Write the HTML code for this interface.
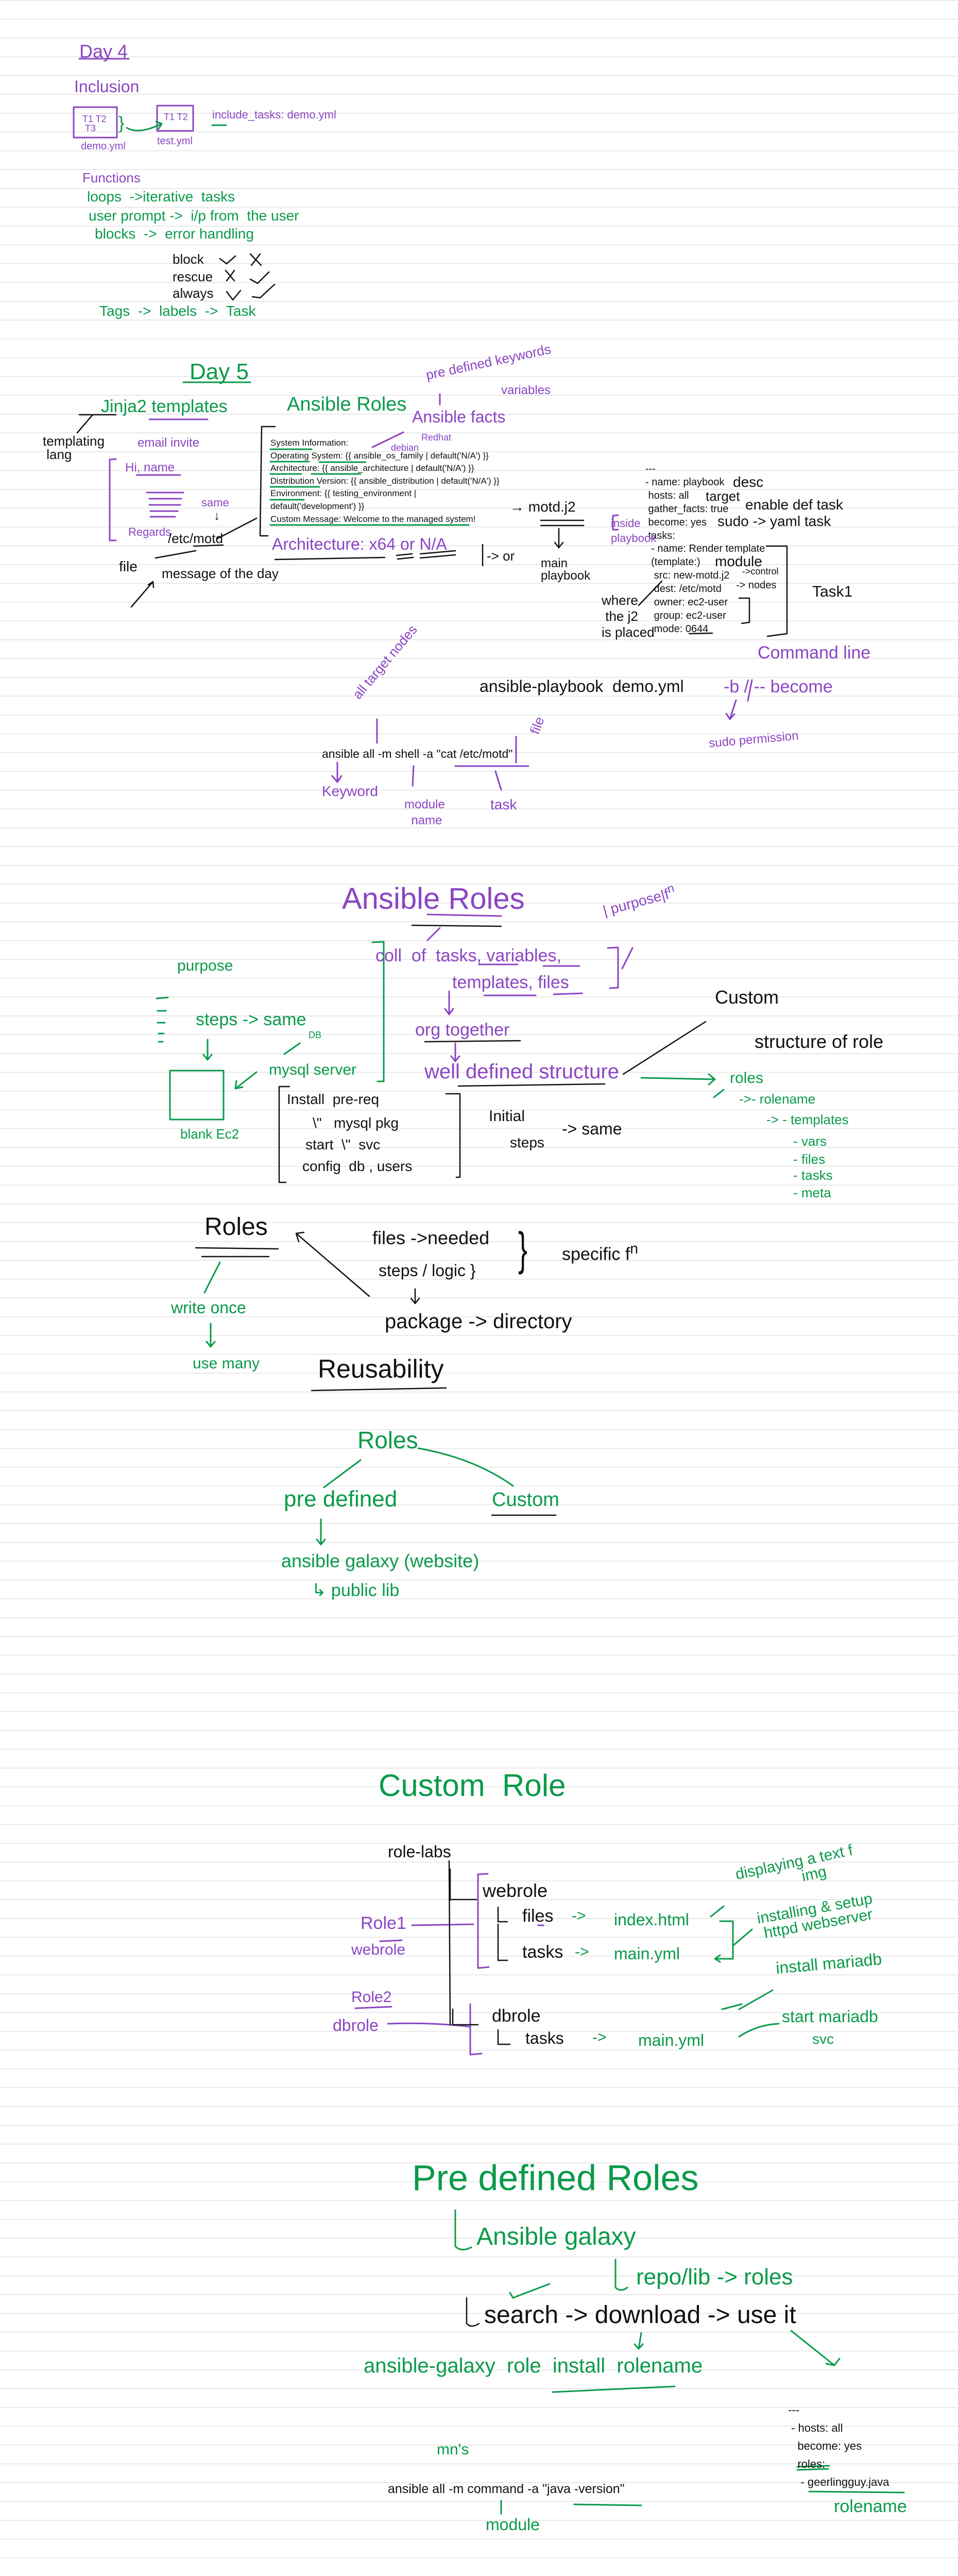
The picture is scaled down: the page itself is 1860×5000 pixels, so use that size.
<!DOCTYPE html>
<html><head><meta charset="utf-8">
<style>
html,body{margin:0;padding:0}
body{width:1860px;height:5000px;position:relative;overflow:hidden;background:#fff;
background-image:repeating-linear-gradient(to bottom,#e3e3e3 0,#e3e3e3 1.5px,transparent 1.5px,transparent 36.5px);}
.t{position:absolute;white-space:nowrap;line-height:1;font-family:"Liberation Sans Narrow","Liberation Sans",sans-serif;}
.p{color:#8b45c3}.g{color:#0a9a4a}.k{color:#111}
.ty{position:absolute;white-space:nowrap;font-family:"Liberation Sans Narrow","Liberation Sans",sans-serif;color:#111;}
svg{position:absolute;left:0;top:0}
</style></head><body>
<svg width="1860" height="5000" fill="none" stroke-linecap="round" stroke-linejoin="round">
<g stroke="#8b45c3" stroke-width="3">
<line x1="154" y1="114" x2="250" y2="114"/>
<rect x="143" y="208" width="84" height="59"/>
<rect x="305" y="205" width="70" height="49"/>
<line x1="290" y1="814" x2="403" y2="814"/>
<line x1="854" y1="765" x2="854" y2="785"/>
<line x1="723" y1="868" x2="783" y2="839"/>
<path d="M225 891 L213 892 L213 1049 L225 1049"/>
<line x1="285" y1="956" x2="356" y2="956"/><line x1="290" y1="968" x2="352" y2="968"/><line x1="290" y1="980" x2="350" y2="980"/><line x1="292" y1="992" x2="345" y2="992"/><line x1="292" y1="1003" x2="340" y2="1003"/>
<line x1="265" y1="922" x2="350" y2="922"/>
<path d="M1200 1000 L1190 1001 L1190 1028 L1200 1028"/>
<line x1="1429" y1="1359" x2="1417" y2="1396"/><path d="M1410 1385 L1417 1396 L1426 1386"/>
<line x1="1460" y1="1320" x2="1452" y2="1360"/>
<line x1="732" y1="1396" x2="732" y2="1442"/>
<line x1="1002" y1="1430" x2="1002" y2="1480"/>
<line x1="884" y1="1487" x2="1026" y2="1487"/>
<line x1="655" y1="1480" x2="655" y2="1518"/><path d="M645 1506 L655 1518 L663 1506"/>
<line x1="803" y1="1487" x2="801" y2="1525"/>
<line x1="962" y1="1497" x2="973" y2="1533"/>
<line x1="830" y1="1775" x2="973" y2="1778"/>
<line x1="854" y1="1801" x2="830" y2="1825"/>
<path d="M1180 1840 L1200 1839 L1200 1917 L1184 1918"/>
<line x1="1208" y1="1880" x2="1228" y2="1840"/>
<line x1="872" y1="1924" x2="872" y2="1969"/><path d="M864 1958 L872 1969 L880 1958"/>
<line x1="884" y1="2025" x2="884" y2="2060"/><path d="M876 2050 L884 2060 L892 2050"/>
<line x1="930" y1="1872" x2="1005" y2="1872"/><line x1="1055" y1="1875" x2="1125" y2="1875"/>
<line x1="940" y1="1932" x2="1040" y2="1932"/><line x1="1075" y1="1930" x2="1130" y2="1928"/>
<line x1="1045" y1="3737" x2="1055" y2="3737"/>
<line x1="800" y1="3737" x2="919" y2="3735"/>
<line x1="738" y1="3768" x2="780" y2="3766"/>
<path d="M947 3637 L928 3638 L928 3820 L949 3818"/>
<line x1="690" y1="3898" x2="760" y2="3895"/>
<path d="M753 3928 Q840 3925 913 3934"/>
<path d="M913 3890 L913 3988 L935 3986"/>
</g>
<g stroke="#0a9a4a" stroke-width="3">
<path d="M246 248 Q270 262 314 240"/><path d="M303 236 L314 240 L308 250"/>
<line x1="412" y1="243" x2="439" y2="243"/>
<line x1="356" y1="742" x2="486" y2="742"/>
<line x1="525" y1="872" x2="605" y2="872"/><line x1="525" y1="896" x2="600" y2="896"/><line x1="620" y1="897" x2="710" y2="897"/>
<line x1="525" y1="920" x2="585" y2="920"/><line x1="605" y1="920" x2="700" y2="920"/>
<line x1="525" y1="945" x2="620" y2="945"/><line x1="525" y1="970" x2="590" y2="970"/>
<line x1="525" y1="1019" x2="910" y2="1019"/>
<path d="M723 1829 L745 1828 L745 2099 L733 2099"/>
<line x1="1245" y1="2092" x2="1388" y2="2095"/><path d="M1376 2085 L1388 2095 L1376 2105"/>
<line x1="1386" y1="2130" x2="1405" y2="2115"/>
<path d="M330 2078 L434 2078 L434 2173 L330 2173 Z"/>
<line x1="403" y1="2018" x2="403" y2="2057"/><path d="M395 2047 L403 2057 L411 2047"/>
<line x1="498" y1="2081" x2="457" y2="2113"/><path d="M459 2098 L457 2113 L471 2110"/>
<line x1="552" y1="2046" x2="582" y2="2025"/>
<line x1="304" y1="1938" x2="326" y2="1936"/><line x1="306" y1="1962" x2="322" y2="1962"/><line x1="306" y1="1985" x2="320" y2="1985"/><line x1="308" y1="2006" x2="318" y2="2006"/><line x1="308" y1="2022" x2="316" y2="2022"/>
<line x1="427" y1="2450" x2="397" y2="2509"/>
<line x1="409" y1="2569" x2="409" y2="2614"/><path d="M401 2604 L409 2614 L417 2604"/>
<line x1="700" y1="2834" x2="629" y2="2887"/>
<path d="M812 2811 Q920 2830 996 2884"/>
<line x1="623" y1="2949" x2="623" y2="2998"/><path d="M615 2988 L623 2998 L631 2988"/>
<path d="M1380 3720 L1405 3700"/><path d="M1398 3729 L1423 3729 L1423 3802 L1390 3802"/><path d="M1398 3795 L1388 3802 L1398 3808"/>
<path d="M1425 3775 L1460 3745"/>
<line x1="1500" y1="3863" x2="1435" y2="3900"/>
<path d="M1435 3953 Q1470 3930 1512 3928"/>
<line x1="1402" y1="3900" x2="1440" y2="3890"/>
<path d="M884 4290 L884 4360 Q895 4372 915 4362"/>
<path d="M1195 4386 L1195 4440 Q1205 4450 1218 4440"/>
<line x1="996" y1="4460" x2="1067" y2="4433"/><line x1="990" y1="4450" x2="996" y2="4460"/>
<line x1="1245" y1="4528" x2="1240" y2="4559"/><path d="M1232 4550 L1240 4559 L1248 4550"/>
<line x1="1536" y1="4524" x2="1620" y2="4591"/><path d="M1604 4588 L1620 4591 L1630 4578"/>
<line x1="1073" y1="4643" x2="1310" y2="4632"/>
<line x1="1548" y1="4788" x2="1610" y2="4786"/><line x1="1548" y1="4794" x2="1608" y2="4792"/>
<line x1="1571" y1="4836" x2="1755" y2="4838"/>
<line x1="1115" y1="4861" x2="1245" y2="4863"/>
<line x1="973" y1="4854" x2="973" y2="4879"/>
</g>
<g stroke="#111" stroke-width="2.5">
<path d="M427 502 L440 512 L457 497"/><path d="M486 493 L507 515 M505 493 L488 515"/>
<path d="M438 525 L455 545 M455 525 L440 545"/><path d="M486 542 L500 550 L522 528"/>
<path d="M440 566 L452 582 L467 564"/><path d="M490 576 L505 578 L533 552"/>
<line x1="154" y1="805" x2="225" y2="805"/><line x1="180" y1="805" x2="150" y2="840"/>
<path d="M534 828 L508 828 L505 1040 L520 1040"/>
<line x1="376" y1="1060" x2="433" y2="1058"/>
<line x1="421" y1="1046" x2="498" y2="1006"/>
<line x1="302" y1="1083" x2="380" y2="1069"/>
<line x1="255" y1="1178" x2="297" y2="1129"/><path d="M288 1135 L297 1129 L298 1140"/>
<line x1="534" y1="1086" x2="747" y2="1082"/>
<line x1="770" y1="1078" x2="800" y2="1075"/><line x1="772" y1="1085" x2="802" y2="1082"/>
<line x1="816" y1="1075" x2="884" y2="1069"/><line x1="816" y1="1083" x2="884" y2="1077"/>
<line x1="937" y1="1057" x2="937" y2="1098"/>
<line x1="1050" y1="1010" x2="1133" y2="1010"/><line x1="1050" y1="1020" x2="1133" y2="1020"/>
<line x1="1085" y1="1026" x2="1085" y2="1063"/><path d="M1077 1053 L1085 1063 L1093 1053"/>
<path d="M1488 1060 L1528 1060 L1528 1230 L1490 1235"/>
<path d="M1435 1161 L1455 1161 L1455 1208 L1440 1210"/>
<line x1="1338" y1="1230" x2="1383" y2="1229"/>
<line x1="1240" y1="1175" x2="1285" y2="1128"/>
<line x1="800" y1="1796" x2="973" y2="1798"/>
<line x1="825" y1="2022" x2="1010" y2="2020"/>
<line x1="890" y1="2108" x2="1174" y2="2104"/>
<line x1="1370" y1="1983" x2="1210" y2="2085"/>
<path d="M562 2109 L542 2109 L542 2295 L555 2295"/>
<path d="M866 2123 L893 2123 L893 2285 L886 2285"/>
<line x1="380" y1="2422" x2="540" y2="2424"/><line x1="392" y1="2439" x2="522" y2="2439"/>
<line x1="717" y1="2516" x2="575" y2="2394"/><path d="M590 2392 L575 2394 L580 2410"/>
<line x1="806" y1="2502" x2="806" y2="2530"/><path d="M798 2520 L806 2530 L814 2520"/>
<line x1="605" y1="2699" x2="866" y2="2694"/>
<line x1="955" y1="2941" x2="1079" y2="2941"/>
<line x1="872" y1="3612" x2="874" y2="3930"/>
<line x1="872" y1="3687" x2="925" y2="3687"/>
<line x1="874" y1="3628" x2="874" y2="3688"/>
<path d="M967 3702 L967 3730 L985 3730"/>
<path d="M967 3735 L967 3805 L985 3805"/>
<path d="M879 3900 L879 3930 L928 3930"/>
<path d="M967 3940 L967 3968 L990 3968"/>
<path d="M906 4460 L906 4510 Q915 4520 930 4510"/>
</g>
</svg>

<!-- Day 4 -->
<div class="t p" style="left:154px;top:82px;font-size:36px">Day 4</div>
<div class="t p" style="left:144px;top:152px;font-size:32px">Inclusion</div>
<div class="t p" style="left:160px;top:222px;font-size:18px">T1 T2<br>&nbsp;T3</div>
<div class="t g" style="left:230px;top:222px;font-size:34px">}</div>
<div class="t p" style="left:318px;top:218px;font-size:18px">T1 T2</div>
<div class="t p" style="left:157px;top:274px;font-size:20px">demo.yml</div>
<div class="t p" style="left:305px;top:264px;font-size:20px">test.yml</div>
<div class="t p" style="left:412px;top:212px;font-size:22px">include_tasks: demo.yml</div>
<div class="t p" style="left:160px;top:332px;font-size:26px">Functions</div>
<div class="t g" style="left:169px;top:368px;font-size:28px">loops &nbsp;-&gt;iterative &nbsp;tasks</div>
<div class="t g" style="left:172px;top:405px;font-size:28px">user prompt -&gt; &nbsp;i/p from &nbsp;the user</div>
<div class="t g" style="left:184px;top:440px;font-size:28px">blocks &nbsp;-&gt; &nbsp;error handling</div>
<div class="t k" style="left:335px;top:490px;font-size:26px">block</div>
<div class="t k" style="left:335px;top:524px;font-size:26px">rescue</div>
<div class="t k" style="left:335px;top:556px;font-size:26px">always</div>
<div class="t g" style="left:193px;top:590px;font-size:28px">Tags &nbsp;-&gt; &nbsp;labels &nbsp;-&gt; &nbsp;Task</div>

<!-- Day 5 -->
<div class="t g" style="left:368px;top:700px;font-size:44px">Day 5</div>
<div class="t g" style="left:196px;top:772px;font-size:34px">Jinja2 templates</div>
<div class="t k" style="left:83px;top:843px;font-size:26px">templating<br>&nbsp;lang</div>
<div class="t g" style="left:557px;top:766px;font-size:38px">Ansible Roles</div>
<div class="t p" style="left:830px;top:715px;font-size:26px;transform:rotate(-12deg);transform-origin:left bottom">pre defined keywords</div>
<div class="t p" style="left:973px;top:746px;font-size:24px">variables</div>
<div class="t p" style="left:800px;top:793px;font-size:32px">Ansible facts</div>
<div class="t p" style="left:818px;top:840px;font-size:18px">Redhat</div>
<div class="t p" style="left:759px;top:860px;font-size:18px">debian</div>
<div class="t p" style="left:267px;top:848px;font-size:24px">email invite</div>
<div class="t p" style="left:243px;top:896px;font-size:24px">Hi, name</div>
<div class="t p" style="left:391px;top:965px;font-size:22px">same</div>
<div class="t k" style="left:415px;top:990px;font-size:24px">↓</div>
<div class="t p" style="left:249px;top:1022px;font-size:22px">Regards</div>
<div class="t k" style="left:326px;top:1032px;font-size:26px">/etc/motd</div>
<div class="t k" style="left:231px;top:1086px;font-size:28px">file</div>
<div class="t k" style="left:314px;top:1100px;font-size:26px">message of the day</div>
<div class="ty" style="left:525px;top:848px;font-size:17px;line-height:24.6px">System Information:<br>Operating System: {{ ansible_os_family | default('N/A') }}<br>Architecture: {{ ansible_architecture | default('N/A') }}<br>Distribution Version: {{ ansible_distribution | default('N/A') }}<br>Environment: {{ testing_environment |<br>default('development') }}<br>Custom Message: Welcome to the managed system!</div>
<div class="t p" style="left:528px;top:1040px;font-size:32px">Architecture: x64 or N/A</div>
<div class="t k" style="left:990px;top:970px;font-size:28px">→ motd.j2</div>
<div class="t k" style="left:945px;top:1066px;font-size:26px">-&gt; or</div>
<div class="t k" style="left:1050px;top:1082px;font-size:24px">main<br>playbook</div>
<div class="ty" style="left:1253px;top:898px;font-size:20px;line-height:25.9px">---<br>- name: playbook<br>&nbsp;hosts: all<br>&nbsp;gather_facts: true<br>&nbsp;become: yes<br>&nbsp;tasks:<br>&nbsp;&nbsp;- name: Render template<br>&nbsp;&nbsp;(template:)<br>&nbsp;&nbsp;&nbsp;src: new-motd.j2<br>&nbsp;&nbsp;&nbsp;dest: /etc/motd<br>&nbsp;&nbsp;&nbsp;owner: ec2-user<br>&nbsp;&nbsp;&nbsp;group: ec2-user<br>&nbsp;&nbsp;&nbsp;mode: 0644</div>
<div class="t k" style="left:1423px;top:922px;font-size:28px">desc</div>
<div class="t k" style="left:1370px;top:950px;font-size:26px">target</div>
<div class="t k" style="left:1447px;top:966px;font-size:28px">enable def task</div>
<div class="t k" style="left:1393px;top:998px;font-size:28px">sudo -&gt; yaml task</div>
<div class="t k" style="left:1388px;top:1076px;font-size:28px">module</div>
<div class="t k" style="left:1441px;top:1100px;font-size:18px">-&gt;control</div>
<div class="t k" style="left:1429px;top:1126px;font-size:20px">-&gt; nodes</div>
<div class="t k" style="left:1577px;top:1134px;font-size:30px">Task1</div>
<div class="t k" style="left:1168px;top:1150px;font-size:26px;line-height:1.2">where<br>&nbsp;the j2<br>is placed</div>
<div class="t p" style="left:1186px;top:1002px;font-size:22px;line-height:1.3">inside<br>playbook</div>
<div class="t p" style="left:1471px;top:1250px;font-size:34px">Command line</div>
<div class="t p" style="left:1405px;top:1316px;font-size:34px">-b / -- become</div>
<div class="t p" style="left:1376px;top:1424px;font-size:24px;transform:rotate(-5deg)">sudo permission</div>
<div class="t k" style="left:931px;top:1316px;font-size:32px">ansible-playbook &nbsp;demo.yml</div>
<div class="t p" style="left:690px;top:1340px;font-size:26px;transform:rotate(-50deg);transform-origin:left center">all target nodes</div>
<div class="t p" style="left:1026px;top:1395px;font-size:26px;transform:rotate(-70deg)">file</div>
<div class="ty" style="left:625px;top:1450px;font-size:23px">ansible all -m shell -a "cat /etc/motd"</div>
<div class="t p" style="left:625px;top:1522px;font-size:28px">Keyword</div>
<div class="t p" style="left:785px;top:1546px;font-size:24px;line-height:1.3">module<br>&nbsp;&nbsp;name</div>
<div class="t p" style="left:952px;top:1548px;font-size:28px">task</div>

<!-- Ansible Roles section -->
<div class="t p" style="left:664px;top:1716px;font-size:58px">Ansible Roles</div>
<div class="t p" style="left:1168px;top:1730px;font-size:28px;transform:rotate(-15deg)">| purpose|f<sup>n</sup></div>
<div class="t p" style="left:729px;top:1838px;font-size:34px">coll &nbsp;of &nbsp;tasks, variables,</div>
<div class="t p" style="left:878px;top:1890px;font-size:34px">templates, files</div>
<div class="t p" style="left:806px;top:1982px;font-size:34px">org together</div>
<div class="t p" style="left:824px;top:2060px;font-size:40px">well defined structure</div>
<div class="t k" style="left:1388px;top:1918px;font-size:36px">Custom</div>
<div class="t k" style="left:1465px;top:2004px;font-size:36px">structure of role</div>
<div class="t g" style="left:1417px;top:2078px;font-size:30px">roles</div>
<div class="t g" style="left:1435px;top:2120px;font-size:26px">-&gt;- rolename</div>
<div class="t g" style="left:1488px;top:2160px;font-size:26px">-&gt; - templates</div>
<div class="t g" style="left:1540px;top:2202px;font-size:26px">- vars</div>
<div class="t g" style="left:1540px;top:2237px;font-size:26px">- files</div>
<div class="t g" style="left:1540px;top:2268px;font-size:26px">- tasks</div>
<div class="t g" style="left:1540px;top:2302px;font-size:26px">- meta</div>
<div class="t g" style="left:344px;top:1860px;font-size:30px">purpose</div>
<div class="t g" style="left:380px;top:1962px;font-size:34px">steps -&gt; same</div>
<div class="t g" style="left:599px;top:2000px;font-size:18px">DB</div>
<div class="t g" style="left:522px;top:2062px;font-size:30px">mysql server</div>
<div class="t g" style="left:350px;top:2188px;font-size:26px">blank Ec2</div>
<div class="t k" style="left:557px;top:2120px;font-size:28px">Install &nbsp;pre-req</div>
<div class="t k" style="left:607px;top:2166px;font-size:28px">\" &nbsp;&nbsp;mysql pkg</div>
<div class="t k" style="left:593px;top:2208px;font-size:28px">start &nbsp;\" &nbsp;svc</div>
<div class="t k" style="left:587px;top:2250px;font-size:28px">config &nbsp;db , users</div>
<div class="t k" style="left:949px;top:2152px;font-size:30px">Initial</div>
<div class="t k" style="left:990px;top:2204px;font-size:28px">steps</div>
<div class="t k" style="left:1091px;top:2175px;font-size:32px">-&gt; same</div>
<div class="t k" style="left:397px;top:2358px;font-size:48px">Roles</div>
<div class="t g" style="left:332px;top:2522px;font-size:32px">write once</div>
<div class="t g" style="left:374px;top:2632px;font-size:30px">use many</div>
<div class="t k" style="left:723px;top:2385px;font-size:36px">files -&gt;needed</div>
<div class="t k" style="left:735px;top:2450px;font-size:32px">steps / logic }</div>
<div class="t k" style="left:1000px;top:2380px;font-size:90px;transform:scaleX(0.6)">}</div>
<div class="t k" style="left:1091px;top:2410px;font-size:34px">specific f<sup>n</sup></div>
<div class="t k" style="left:747px;top:2545px;font-size:40px">package -&gt; directory</div>
<div class="t k" style="left:617px;top:2632px;font-size:50px">Reusability</div>

<div class="t g" style="left:694px;top:2772px;font-size:46px">Roles</div>
<div class="t g" style="left:551px;top:2888px;font-size:44px">pre defined</div>
<div class="t g" style="left:955px;top:2892px;font-size:38px">Custom</div>
<div class="t g" style="left:546px;top:3012px;font-size:36px">ansible galaxy (website)</div>
<div class="t g" style="left:605px;top:3070px;font-size:34px">↳ public lib</div>

<!-- Custom Role -->
<div class="t g" style="left:735px;top:3436px;font-size:60px">Custom &nbsp;Role</div>
<div class="t k" style="left:753px;top:3578px;font-size:32px">role-labs</div>
<div class="t k" style="left:937px;top:3652px;font-size:36px">webrole</div>
<div class="t k" style="left:1014px;top:3702px;font-size:34px">files</div>
<div class="t g" style="left:1110px;top:3704px;font-size:30px">-&gt;</div>
<div class="t g" style="left:1192px;top:3710px;font-size:32px">index.html</div>
<div class="t k" style="left:1014px;top:3772px;font-size:34px">tasks</div>
<div class="t g" style="left:1116px;top:3774px;font-size:30px">-&gt;</div>
<div class="t g" style="left:1192px;top:3776px;font-size:32px">main.yml</div>
<div class="t g" style="left:1429px;top:3600px;font-size:30px;transform:rotate(-12deg);line-height:1">displaying a text f<br>&nbsp;&nbsp;&nbsp;&nbsp;&nbsp;&nbsp;&nbsp;&nbsp;&nbsp;&nbsp;&nbsp;&nbsp;&nbsp;&nbsp;&nbsp;img</div>
<div class="t g" style="left:1471px;top:3690px;font-size:30px;transform:rotate(-10deg);line-height:1">installing &amp; setup<br>&nbsp;httpd webserver</div>
<div class="t g" style="left:1506px;top:3795px;font-size:32px;transform:rotate(-5deg)">install mariadb</div>
<div class="t p" style="left:700px;top:3716px;font-size:34px">Role1</div>
<div class="t p" style="left:682px;top:3770px;font-size:30px">webrole</div>
<div class="t p" style="left:682px;top:3862px;font-size:30px">Role2</div>
<div class="t p" style="left:646px;top:3915px;font-size:32px">dbrole</div>
<div class="t k" style="left:955px;top:3896px;font-size:34px">dbrole</div>
<div class="t k" style="left:1020px;top:3940px;font-size:32px">tasks</div>
<div class="t g" style="left:1150px;top:3940px;font-size:30px">-&gt;</div>
<div class="t g" style="left:1239px;top:3944px;font-size:32px">main.yml</div>
<div class="t g" style="left:1518px;top:3898px;font-size:32px">start mariadb</div>
<div class="t g" style="left:1577px;top:3944px;font-size:28px">svc</div>

<!-- Pre defined Roles -->
<div class="t g" style="left:800px;top:4192px;font-size:70px">Pre defined Roles</div>
<div class="t g" style="left:925px;top:4318px;font-size:48px">Ansible galaxy</div>
<div class="t g" style="left:1235px;top:4398px;font-size:44px">repo/lib -&gt; roles</div>
<div class="t k" style="left:940px;top:4470px;font-size:48px">search -&gt; download -&gt; use it</div>
<div class="t g" style="left:706px;top:4572px;font-size:40px">ansible-galaxy &nbsp;role &nbsp;install &nbsp;rolename</div>
<div class="t g" style="left:848px;top:4740px;font-size:30px">mn's</div>
<div class="ty" style="left:753px;top:4817px;font-size:25px">ansible all -m command -a "java -version"</div>
<div class="t g" style="left:943px;top:4884px;font-size:32px">module</div>
<div class="ty" style="left:1530px;top:4660px;font-size:22px;line-height:35px">---<br>&nbsp;- hosts: all<br>&nbsp;&nbsp;&nbsp;become: yes<br>&nbsp;&nbsp;&nbsp;roles:<br>&nbsp;&nbsp;&nbsp;&nbsp;- geerlingguy.java</div>
<div class="t g" style="left:1619px;top:4848px;font-size:34px">rolename</div>
</body></html>
